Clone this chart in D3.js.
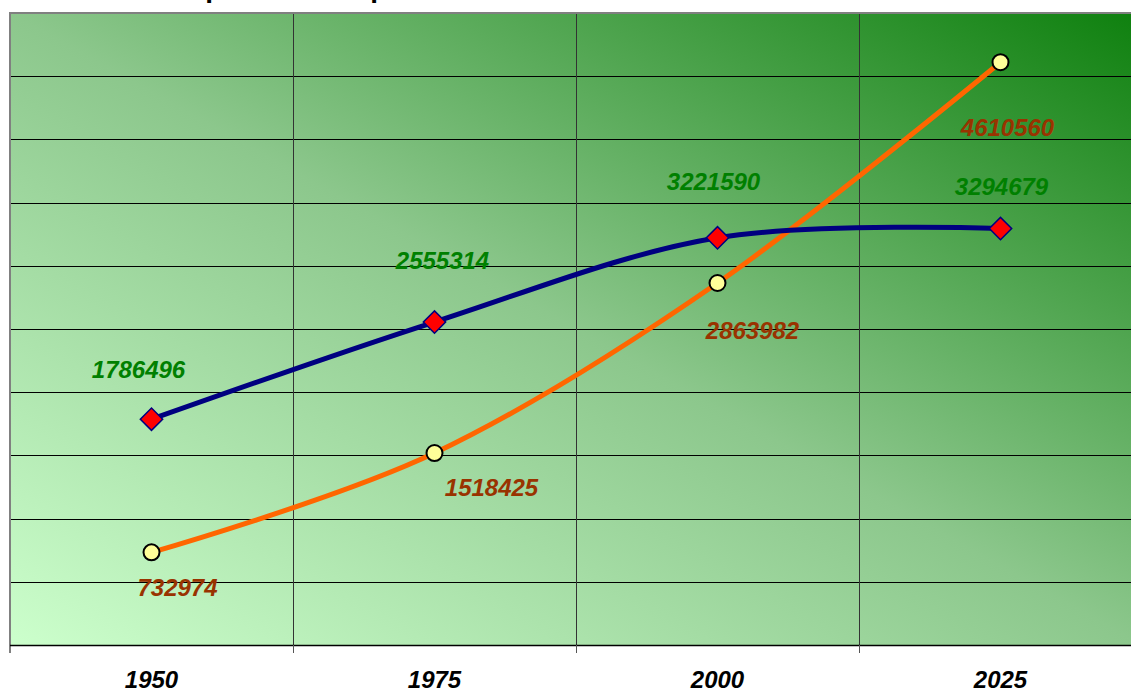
<!DOCTYPE html>
<html>
<head>
<meta charset="utf-8">
<script src="https://cdn.jsdelivr.net/npm/d3@7"></script>
<style>
  html, body { margin: 0; padding: 0; background: #ffffff; }
  svg { display: block; }
  text { font-family: "Liberation Sans", Arial, Helvetica, sans-serif; }
</style>
</head>
<body>
<svg id="chart" width="1131" height="691"></svg>
<script>
// Years on the category axis
const years = ["1950", "1975", "2000", "2025"];
// Series A (navy line, red diamonds)
const seriesA = [1786496, 2555314, 3221590, 3294679];
// Series B (orange line, yellow circles)
const seriesB = [732974, 1518425, 2863982, 4610560];
// Value axis: gridline every 500 000 up to 5 000 000
const yMax = 5000000;
const yStep = 500000;

// Hand-placed label nudges (text centre / baseline relative to the point)
const nudgeA = [[-13, -41], [8, -53], [-4, -48], [1, -34]];
const nudgeB = [[26, 44], [57, 43], [35, 56], [7, 74]];

const svg = d3.select("#chart");

const plot = { left: 10, right: 1142, top: 13, bottom: 645 };

const x = d3.scaleBand().domain(years).range([plot.left, plot.right]).padding(0);
const y = d3.scaleLinear().domain([0, yMax]).range([plot.bottom, plot.top]);
const cx = d => x(d) + x.bandwidth() / 2;

// Background gradient: pale green lower-left to deep green upper-right
const defs = svg.append("defs");
const grad = defs.append("linearGradient")
  .attr("id", "bg")
  .attr("x1", 0).attr("y1", 1).attr("x2", 1).attr("y2", 0);
grad.append("stop").attr("offset", "0%").attr("stop-color", "#ccffcc");
grad.append("stop").attr("offset", "50%").attr("stop-color", "#8cc78c");
grad.append("stop").attr("offset", "100%").attr("stop-color", "#0e800e");

// Title (sits above the visible area; only descenders reach into view)
svg.append("text")
  .attr("x", 143).attr("y", -3.5)
  .attr("font-size", 28).attr("font-weight", "bold")
  .attr("fill", "#000")
  .text("Comparación de población urbana e rural");

// Plot area
svg.append("rect")
  .attr("x", plot.left).attr("y", plot.top)
  .attr("width", plot.right - plot.left).attr("height", plot.bottom - plot.top)
  .attr("fill", "url(#bg)");

// Horizontal gridlines
const yTicks = d3.range(yStep, yMax, yStep);
svg.append("g")
  .selectAll("line")
  .data(yTicks)
  .join("line")
  .attr("x1", plot.left).attr("x2", plot.right)
  .attr("y1", d => Math.round(y(d)) + 0.5).attr("y2", d => Math.round(y(d)) + 0.5)
  .attr("stroke", "#000").attr("stroke-width", 1);

// Vertical gridlines between categories
const bounds = years.slice(1).map(d => x(d));
svg.append("g")
  .selectAll("line")
  .data(bounds)
  .join("line")
  .attr("x1", d => Math.round(d) + 0.5).attr("x2", d => Math.round(d) + 0.5)
  .attr("y1", plot.top).attr("y2", plot.bottom)
  .attr("stroke", "#333").attr("stroke-width", 1);

// Plot border (top and left)
svg.append("line")
  .attr("x1", plot.left - 1).attr("x2", plot.right)
  .attr("y1", plot.top).attr("y2", plot.top)
  .attr("stroke", "#808080").attr("stroke-width", 2);
svg.append("line")
  .attr("x1", plot.left).attr("x2", plot.left)
  .attr("y1", plot.top).attr("y2", plot.bottom + 8)
  .attr("stroke", "#808080").attr("stroke-width", 2);

// Category axis
svg.append("line")
  .attr("x1", plot.left).attr("x2", plot.right)
  .attr("y1", plot.bottom + 0.5).attr("y2", plot.bottom + 0.5)
  .attr("stroke", "#000").attr("stroke-width", 1.5);
svg.append("g")
  .selectAll("line")
  .data(bounds)
  .join("line")
  .attr("x1", d => Math.round(d) + 0.5).attr("x2", d => Math.round(d) + 0.5)
  .attr("y1", plot.bottom).attr("y2", plot.bottom + 8)
  .attr("stroke", "#555").attr("stroke-width", 1);
svg.append("g")
  .selectAll("text")
  .data(years)
  .join("text")
  .attr("x", d => cx(d)).attr("y", 688)
  .attr("text-anchor", "middle")
  .attr("font-size", 24).attr("font-weight", "bold").attr("font-style", "italic")
  .attr("fill", "#000")
  .text(d => d);

// Smoothed lines
const line = d3.line()
  .x((d, i) => cx(years[i]))
  .y(d => y(d))
  .curve(d3.curveCardinal.tension(0));

svg.append("path")
  .datum(seriesB)
  .attr("d", line)
  .attr("fill", "none")
  .attr("stroke", "#ff6600").attr("stroke-width", 5)
  .attr("stroke-linecap", "round").attr("stroke-linejoin", "round");

svg.append("path")
  .datum(seriesA)
  .attr("d", line)
  .attr("fill", "none")
  .attr("stroke", "#000080").attr("stroke-width", 5)
  .attr("stroke-linecap", "round").attr("stroke-linejoin", "round");

// Markers: diamonds for series A
const diamond = d3.symbol().type(d3.symbolSquare).size(250);
svg.append("g")
  .selectAll("path")
  .data(seriesA)
  .join("path")
  .attr("d", diamond)
  .attr("transform", (d, i) => `translate(${cx(years[i])},${y(d)}) rotate(45)`)
  .attr("fill", "#ff0000")
  .attr("stroke", "#000080").attr("stroke-width", 1.5);

// Markers: circles for series B
svg.append("g")
  .selectAll("circle")
  .data(seriesB)
  .join("circle")
  .attr("cx", (d, i) => cx(years[i]))
  .attr("cy", d => y(d))
  .attr("r", 8)
  .attr("fill", "#ffff99")
  .attr("stroke", "#000").attr("stroke-width", 2);

// Value labels
svg.append("g")
  .selectAll("text")
  .data(seriesA)
  .join("text")
  .attr("x", (d, i) => cx(years[i]) + nudgeA[i][0])
  .attr("y", (d, i) => y(d) + nudgeA[i][1])
  .attr("text-anchor", "middle")
  .attr("font-size", 24).attr("font-weight", "bold").attr("font-style", "italic")
  .attr("fill", "#008000")
  .text(d => d);

svg.append("g")
  .selectAll("text")
  .data(seriesB)
  .join("text")
  .attr("x", (d, i) => cx(years[i]) + nudgeB[i][0])
  .attr("y", (d, i) => y(d) + nudgeB[i][1])
  .attr("text-anchor", "middle")
  .attr("font-size", 24).attr("font-weight", "bold").attr("font-style", "italic")
  .attr("fill", "#993300")
  .text(d => d);
</script>
</body>
</html>
